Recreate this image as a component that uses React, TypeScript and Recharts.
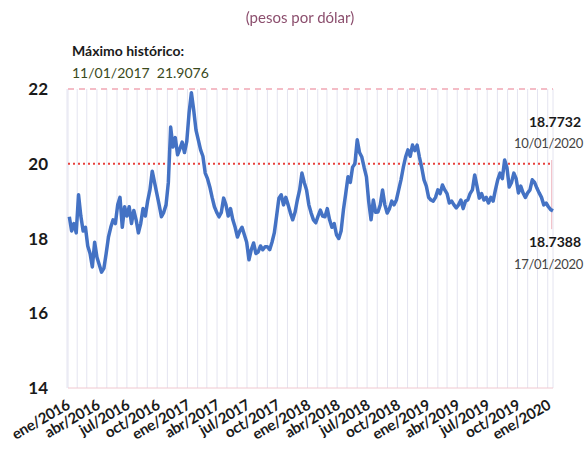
import React from "react";
import {
  LineChart,
  Line,
  XAxis,
  YAxis,
  CartesianGrid,
  ReferenceLine,
} from "recharts";

// Weekly (Friday) FIX rate, pesos per dollar, from 08/01/2016 to 17/01/2020
const rates2016 = [
  18.58, 18.2, 18.4, 18.15, // ene
  19.17, 18.6, 18.2, 18.3, // feb
  17.8, 17.6, 17.24, 17.9, // mar
  17.5, 17.3, 17.1, 17.2, 17.6, // abr
  18.04, 18.3, 18.5, 18.4, // may
  18.9, 19.1, 18.3, 18.85, // jun
  18.6, 18.85, 18.4, 18.75, 18.5, // jul
  18.15, 18.4, 18.8, 18.6, // ago
  19.0, 19.3, 19.8, 19.5, 19.2, // sep
  18.9, 18.58, 18.7, 18.9, // oct
  19.5, 20.98, 20.45, 20.7, // nov
  20.24, 20.4, 20.58, 20.3, 20.6, // dic
];
const rates2017 = [
  21.36, 21.9, 21.44, 20.9,
  20.64, 20.37, 20.2, 19.75,
  19.6, 19.38, 19.1, 18.85, 18.7,
  18.58, 18.7, 19.08, 18.9,
  18.6, 18.8, 18.5, 18.3,
  18.04, 18.2, 18.3, 18.1, 17.9,
  17.43, 17.7, 17.88, 17.6,
  17.64, 17.8, 17.7, 17.78,
  17.78, 17.7, 17.9, 18.15, 18.6,
  19.08, 19.17, 18.9, 19.1,
  18.9, 18.68, 18.5, 18.7,
  19.03, 19.3, 19.75, 19.5, 19.3,
];
const rates2018 = [
  18.9, 18.68, 18.5, 18.42,
  18.6, 18.76, 18.6, 18.58,
  18.8, 18.5, 18.3, 18.4, 18.1,
  18.0, 18.2, 18.76, 19.2,
  19.65, 19.5, 19.91, 20.0,
  20.64, 20.3, 20.18, 19.9, 19.65,
  18.98, 18.5, 19.03, 18.7,
  18.71, 18.9, 19.3, 18.9, 18.68,
  18.8, 19.0, 18.9, 19.03,
  19.3, 19.57, 19.9, 20.18,
  20.37, 20.2, 20.5, 20.35, 20.5,
  20.18, 19.9, 19.57, 19.4,
];
const rates2019 = [
  19.1, 19.03, 19.0, 19.1,
  19.3, 19.2, 19.43, 19.3,
  19.2, 18.95, 19.0, 18.9, 18.82,
  18.9, 19.03, 18.8, 19.0,
  19.03, 19.2, 19.3, 19.7, 19.4,
  19.08, 19.2, 19.03, 19.1,
  18.95, 19.1, 19.0, 19.3,
  19.57, 19.75, 19.6, 20.1, 19.9,
  19.38, 19.5, 19.75, 19.6,
  19.22, 19.4, 19.22, 19.1,
  19.22, 19.3, 19.57, 19.5, 19.35,
  19.22, 19.1, 18.9, 18.95,
];
const rates2020 = [18.85, 18.7732, 18.7388];

const monthNames = ["ene", "feb", "mar", "abr", "may", "jun", "jul", "ago", "sep", "oct", "nov", "dic"];
const yTicks = [14, 16, 18, 20, 22];

const DAY = 86400000;
const firstFriday = Date.UTC(2016, 0, 8);
const allRates = [...rates2016, ...rates2017, ...rates2018, ...rates2019, ...rates2020];
const data = allRates.map((v, i) => ({ t: firstFriday + i * 7 * DAY, v }));

const monthTicks: number[] = [];
for (let m = 0; m <= 48; m++) monthTicks.push(Date.UTC(2016, m, 1));

const FONT = "Lato, 'DejaVu Sans', sans-serif";

const MonthTick = (props: any) => {
  const { x, y, payload } = props;
  const d = new Date(payload.value);
  const m = d.getUTCMonth();
  if (m % 3 !== 0) return null;
  const label = `${monthNames[m]}/${d.getUTCFullYear()}`;
  const ax = x + 4;
  const ay = y + 12;
  return (
    <text
      x={ax}
      y={ay}
      transform={`rotate(-30, ${ax}, ${ay})`}
      textAnchor="end"
      fontFamily={FONT}
      fontWeight={700}
      fontSize={15}
      letterSpacing={-0.3}
      fill="#1a1a1a"
    >
      {label}
    </text>
  );
};

export default function App() {
  const txt: React.CSSProperties = { position: "absolute", fontFamily: FONT, whiteSpace: "nowrap" };
  return (
    <div style={{ position: "fixed", top: 0, left: 0, width: 585, height: 454, background: "#fff" }}>
      <LineChart
        width={585}
        height={454}
        data={data}
        margin={{ top: 89, right: 32, left: 0, bottom: 0 }}
      >
        <CartesianGrid vertical horizontal={false} stroke="#e4e4f0" />
        <XAxis
          dataKey="t"
          type="number"
          scale="time"
          domain={[Date.UTC(2016, 0, 4), Date.UTC(2020, 0, 17)]}
          ticks={monthTicks}
          interval={0}
          tick={<MonthTick />}
          tickLine={false}
          axisLine={{ stroke: "#f0c8d0" }}
          height={66}
        />
        <YAxis
          domain={[14, 22]}
          ticks={yTicks}
          axisLine={false}
          tickLine={false}
          width={68}
          tickMargin={14}
          tick={{ fontSize: 17, fontWeight: 700, fill: "#1a1a1a", fontFamily: FONT }}
        />
        <ReferenceLine y={22} stroke="#f4bcc6" strokeWidth={2} strokeDasharray="6 5" />
        <ReferenceLine y={20} stroke="#e8413c" strokeWidth={2} strokeDasharray="2 3" />
        <ReferenceLine
          segment={[
            { x: Date.UTC(2020, 0, 13), y: 18.25 },
            { x: Date.UTC(2020, 0, 13), y: 20.1 },
          ]}
          stroke="#f0b8c0"
          strokeWidth={1}
        />
        <Line
          type="linear"
          dataKey="v"
          stroke="#4472c4"
          strokeWidth={3.5}
          strokeLinejoin="round"
          dot={false}
          isAnimationActive={false}
        />
      </LineChart>
      <div style={{ ...txt, left: 0, width: 600, top: 8, textAlign: "center", fontSize: 15, color: "#8c4f6e" }}>
        (pesos por dólar)
      </div>
      <div style={{ ...txt, left: 72, top: 42, fontSize: 14, fontWeight: 700, color: "#1a1a1a" }}>
        Máximo histórico:
      </div>
      <div style={{ ...txt, left: 72, top: 64, fontSize: 14, color: "#3b4a1c" }}>
        11/01/2017&nbsp;&nbsp;21.9076
      </div>
      <div style={{ ...txt, left: 529, top: 113, fontSize: 14, fontWeight: 700, color: "#1a1a1a" }}>
        18.7732
      </div>
      <div style={{ ...txt, left: 514, top: 135, fontSize: 13, letterSpacing: -0.3, color: "#444" }}>
        10/01/2020
      </div>
      <div style={{ ...txt, left: 529, top: 233, fontSize: 14, fontWeight: 700, color: "#1a1a1a" }}>
        18.7388
      </div>
      <div style={{ ...txt, left: 514, top: 256, fontSize: 13, letterSpacing: -0.3, color: "#444" }}>
        17/01/2020
      </div>
    </div>
  );
}
